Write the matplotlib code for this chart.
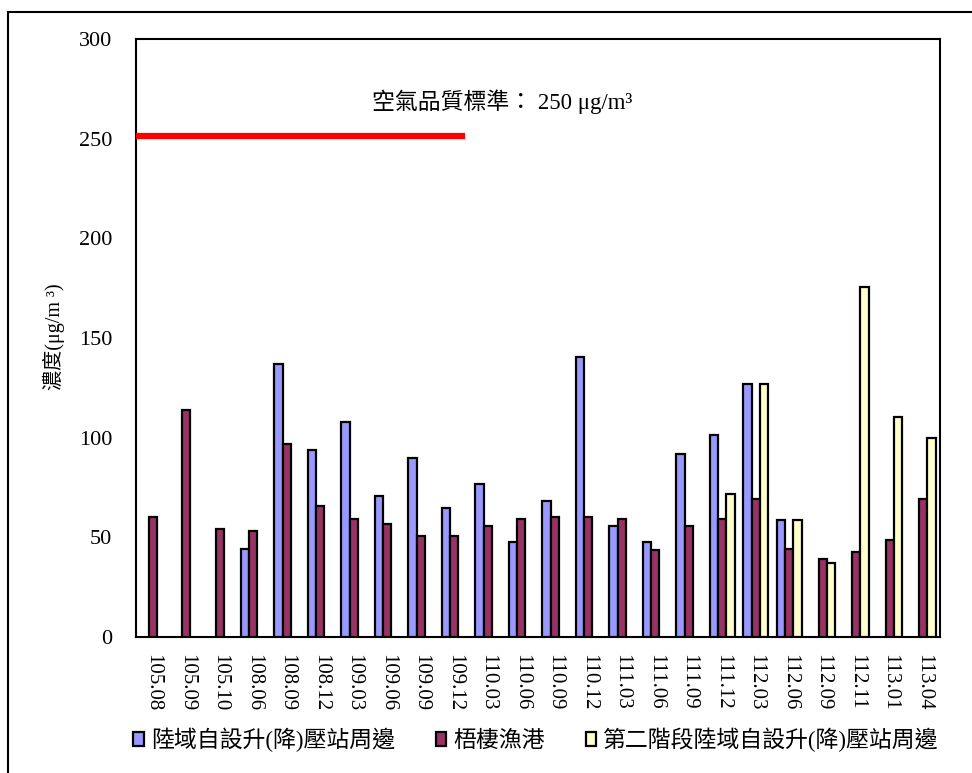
import numpy as np
import matplotlib
matplotlib.use('Agg')
from matplotlib import pyplot as plt
from matplotlib.patches import Rectangle

nan = np.nan

# sampling periods (ROC year.month)
periods = ['105.08', '105.09', '105.10', '108.06', '108.09', '108.12', '109.03', '109.06',
           '109.09', '109.12', '110.03', '110.06', '110.09', '110.12', '111.03', '111.06',
           '111.09', '111.12', '112.03', '112.06', '112.09', '112.11', '113.01', '113.04']

# concentration (ug/m3)
station = [nan, nan, nan, 44, 137, 94, 108, 70.5, 90, 64.5, 77, 47.5, 68, 140.5,
           55.5, 47.5, 92, 101.5, 127, 58.5, nan, nan, nan, nan]
harbor = [60, 114, 54, 53, 97, 65.5, 59, 56.5, 50.5, 50.5, 55.5, 59, 60, 60,
          59, 43.5, 55.5, 59, 69, 44, 39, 42.5, 48.5, 69]
stage2 = [nan] * 17 + [71.5, 127, 58.5, 37, 175.5, 110.5, 100]

series_names = ['陸域自設升(降)壓站周邊', '梧棲漁港', '第二階段陸域自設升(降)壓站周邊']
colors = ['#9999FF', '#993366', '#FFFFCC']
standard = 250

fonts = ['Liberation Serif', 'Noto Sans CJK TC']
plt.rcParams['font.family'] = fonts

fig = plt.figure(figsize=(9.72, 7.73), dpi=100)
ax = fig.add_axes([136 / 972, 1 - 637 / 773, 804 / 972, 598 / 773])

x = np.arange(len(periods))
w = 0.25
for i, (vals, c, name) in enumerate(zip([station, harbor, stage2], colors, series_names)):
    ax.bar(x + (i - 1) * w, vals, width=w, color=c, edgecolor='black', linewidth=1.6,
           label=name, zorder=3)

# air quality standard line
ax.axhline(standard + 1.5, xmin=0, xmax=0.405, color='#FF0000', linewidth=4.5, zorder=4)
ax.text(0.456, 0.895, '空氣品質標準： 250 μg/m³', transform=ax.transAxes, ha='center',
        va='center', fontsize=16.5, family=fonts)

ax.set_xlim(-0.5, len(periods) - 0.5)
ax.set_ylim(0, 300)
ax.set_yticks(np.arange(0, 301, 50))
ax.set_xticks(x)
ax.set_xticklabels(periods, rotation=270, fontsize=15)
ax.tick_params(axis='y', length=0, pad=17, labelsize=16)
ax.tick_params(axis='x', length=0, pad=12)
for s in ax.spines.values():
    s.set_linewidth(1.5)

fig.text(54 / 972, 1 - 337 / 773, '濃度(μg/m ³)', rotation=90, ha='center', va='center',
         fontsize=14.5, family=fonts)

fig.legend(loc='center', bbox_to_anchor=(536 / 972, 1 - 740 / 773), ncol=3, frameon=False,
           fontsize=16.5, handlelength=0.45, handleheight=0.55, handletextpad=0.3,
           columnspacing=1.8, borderaxespad=0)

# outer chart border (right and bottom run off the image)
fig.patches.append(Rectangle((8 / 972, -0.1), 1.2, 1.1 - 12 / 773, transform=fig.transFigure,
                             fill=False, edgecolor='black', linewidth=1.5))

fig.savefig('out.png', dpi=100)
